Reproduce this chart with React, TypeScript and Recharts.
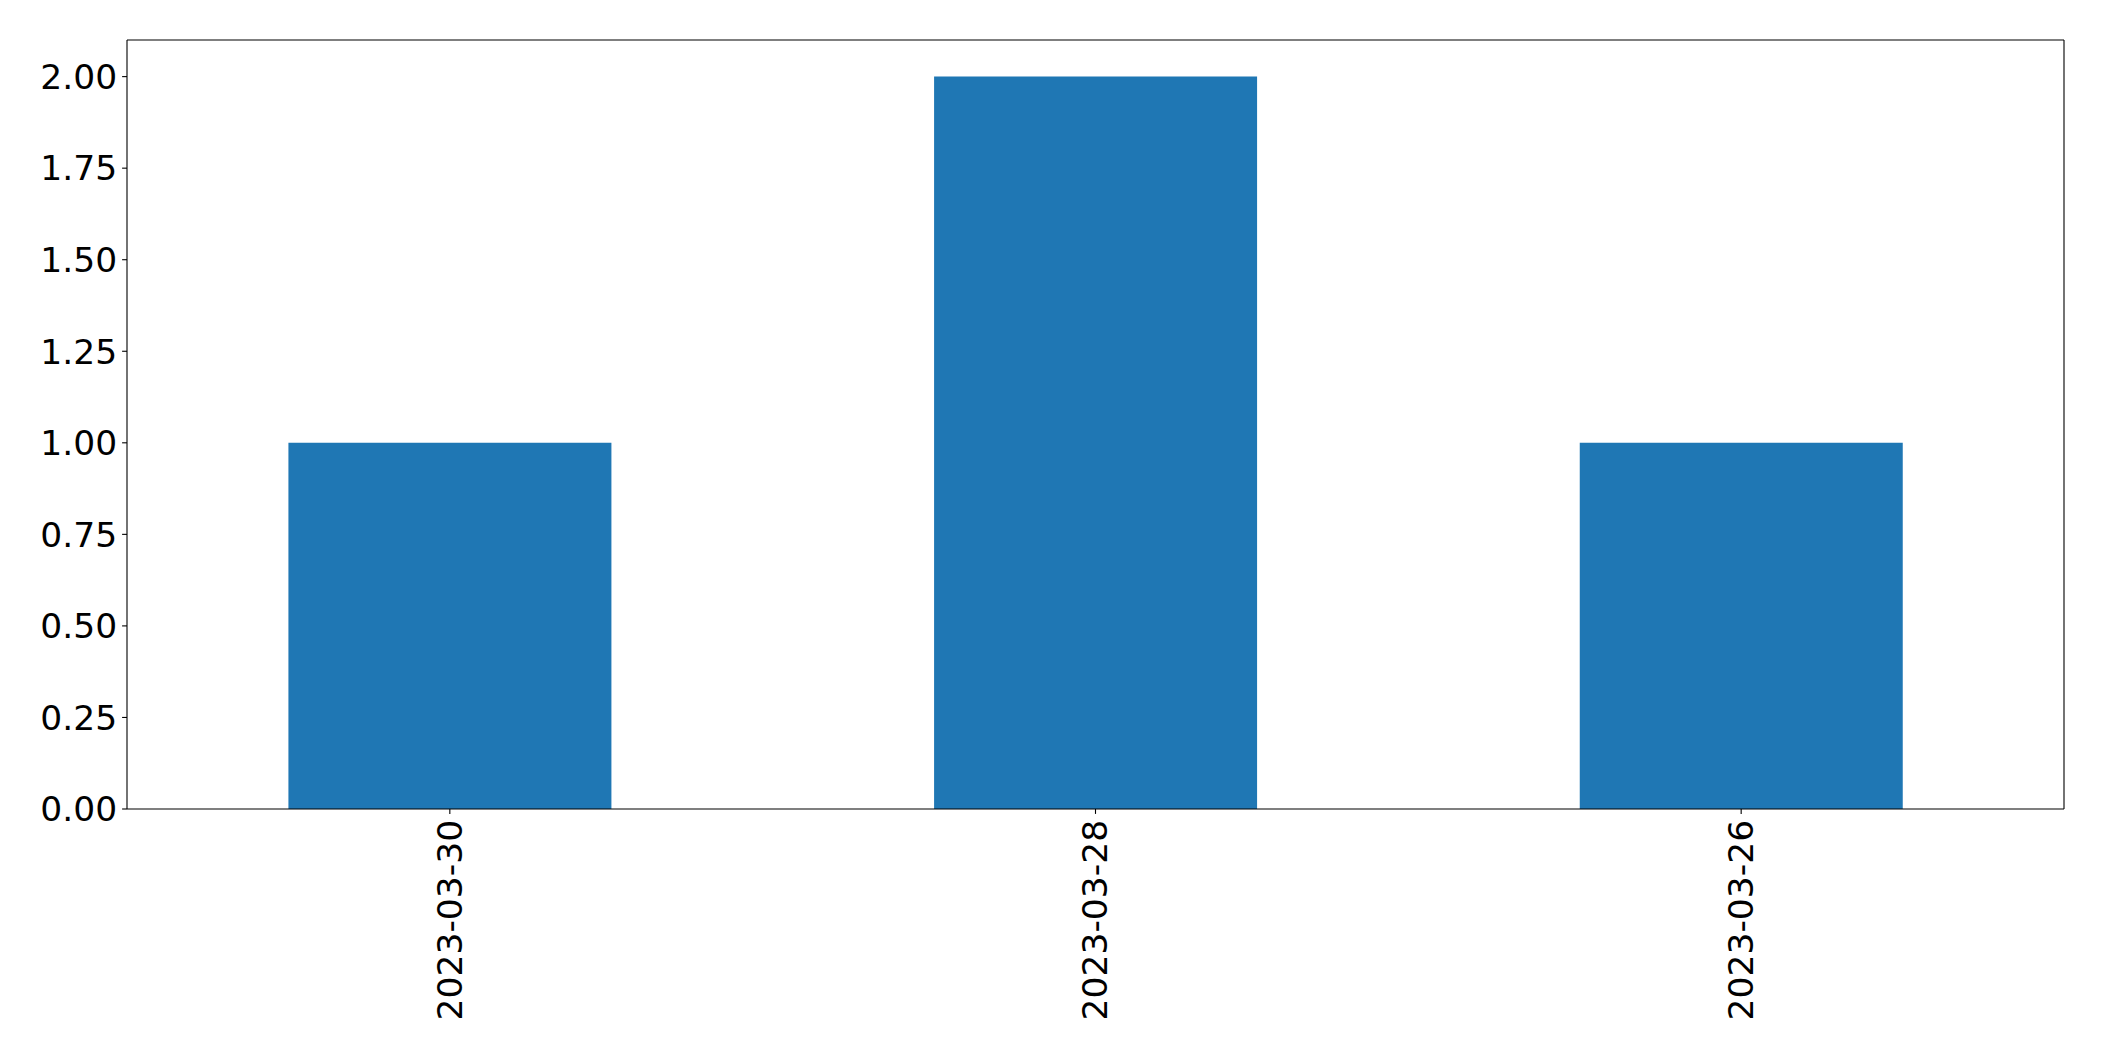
import React from "react";
import { BarChart, Bar, XAxis, YAxis } from "recharts";

const categories = ["2023-03-30", "2023-03-28", "2023-03-26"];
const counts = [1, 2, 1];
const yTicks = [0, 0.25, 0.5, 0.75, 1.0, 1.25, 1.5, 1.75, 2.0];

const data = categories.map((c, i) => ({ date: c, count: counts[i] }));

const FONT = "'DejaVu Sans', sans-serif";
const FS = 34.5;

const XTick = (props: any) => {
  const { x, y, payload } = props;
  return (
    <text
      x={x}
      y={y + 4}
      transform={`rotate(-90, ${x}, ${y + 4})`}
      textAnchor="end"
      dominantBaseline="central"
      fontFamily={FONT}
      fontSize={FS}
      fill="#000"
    >
      {payload.value}
    </text>
  );
};

export default function App() {
  return (
    <div style={{ width: 2088, height: 1045, background: "#fff" }}>
      <BarChart
        width={2088}
        height={1045}
        data={data}
        margin={{ top: 31, right: 31, bottom: 0, left: 0 }}
        barCategoryGap="25%"
      >
        <XAxis
          dataKey="date"
          height={244}
          tick={<XTick />}
          tickSize={4.9}
          axisLine={{ stroke: "#000", strokeWidth: 1.1 }}
          tickLine={{ stroke: "#000", strokeWidth: 1.1 }}
          interval={0}
        />
        <XAxis
          xAxisId="top"
          orientation="top"
          dataKey="date"
          height={1}
          tick={false}
          tickLine={false}
          axisLine={{ stroke: "#000", strokeWidth: 1.1 }}
        />
        <YAxis
          width={119}
          domain={[0, 2.1]}
          ticks={yTicks}
          allowDataOverflow
          tickFormatter={(v: number) => v.toFixed(2)}
          tickSize={4.9}
          tickMargin={4.9}
          tick={{ fontFamily: FONT, fontSize: FS, fill: "#000" }}
          axisLine={{ stroke: "#000", strokeWidth: 1.1 }}
          tickLine={{ stroke: "#000", strokeWidth: 1.1 }}
        />
        <YAxis
          yAxisId="right"
          orientation="right"
          width={1}
          domain={[0, 2.1]}
          tick={false}
          tickLine={false}
          axisLine={{ stroke: "#000", strokeWidth: 1.1 }}
        />
        <Bar dataKey="count" fill="#1f77b4" isAnimationActive={false} />
      </BarChart>
    </div>
  );
}
